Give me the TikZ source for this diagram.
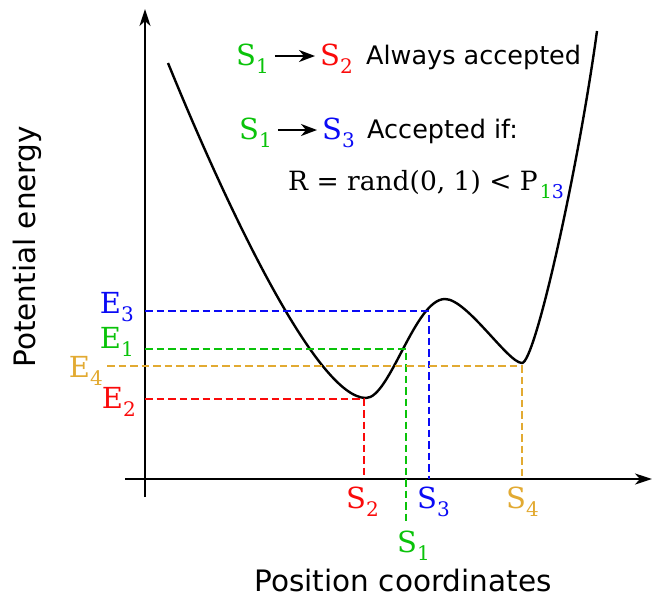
\documentclass[tikz,border=0pt]{standalone}
\usepackage{fontspec}
\setmainfont{DejaVu Serif}
\newfontfamily\sansf{DejaVu Sans}
\usetikzlibrary{arrows.meta}
\definecolor{mygreen}{RGB}{10,195,10}
\definecolor{myred}{RGB}{250,10,10}
\definecolor{myblue}{RGB}{10,10,245}
\definecolor{myorange}{RGB}{226,170,50}
\newcommand\lsub[1]{\raisebox{-0.28em}{\fontsize{20}{20}\selectfont #1}}
\begin{document}
\begin{tikzpicture}[x=1pt,y=-1pt,
  lbl/.style={inner sep=0pt,font=\fontsize{29}{32}\selectfont},
  rtxt/.style={inner sep=0pt,font=\fontsize{26.5}{30}\selectfont},
  stxt/.style={inner sep=0pt,font=\sansf\fontsize{25.5}{30}\selectfont},
  axlbl/.style={inner sep=0pt,text depth=0pt,font=\sansf\fontsize{29.5}{34}\selectfont},
  axis/.style={line width=2.4pt,-{Stealth[length=17pt,width=11pt,inset=5pt]}},
  txtarrow/.style={line width=2.2pt,-{Stealth[length=16pt,width=12pt,inset=5pt]}},
  curve/.style={line width=2.4pt},
  dline/.style={line width=2.1pt,dash pattern=on 7.5pt off 4pt}]
\useasboundingbox (0,0) rectangle (652,597);
% axes
\coordinate (yb) at (145,497);
\coordinate (yt) at (145,9);
\coordinate (xl) at (125,479);
\coordinate (xr) at (652,479);
\draw[axis] (yb) -- (yt);
\draw[axis] (xl) -- (xr);
% curve
\coordinate (c0) at (168,63);
\coordinate (cm1) at (366,398);
\coordinate (cmax) at (445,299);
\coordinate (cm2) at (522,363);
\coordinate (c5) at (597,31);
\draw[curve] (c0) .. controls (230,215) and (318,398) .. (cm1)
  .. controls (390,398) and (415,299) .. (cmax)
  .. controls (467,299) and (508,363) .. (cm2)
  .. controls (535,363) and (578,170) .. (c5);
% points
\coordinate (p3) at (429,311);
\coordinate (p1) at (406,349);
\coordinate (p4) at (522,366);
\coordinate (p2) at (364,399);
\coordinate (a3) at (145,311);
\coordinate (a1) at (145,349);
\coordinate (a4) at (107,366);
\coordinate (a2) at (145,399);
\coordinate (f3) at (429,479);
\coordinate (f1) at (406,522);
\coordinate (f4) at (522,479);
\coordinate (f2) at (364,479);
\draw[dline,myblue] (a3) -- (p3) -- (f3);
\draw[dline,mygreen] (a1) -- (p1) -- (f1);
\draw[dline,myorange] (a4) -- (p4) -- (f4);
\draw[dline,myred] (a2) -- (p2) -- (f2);
% energy labels
\node[lbl,text=myblue,anchor=base east] (e3) at (134,313) {E\lsub{3}};
\node[lbl,text=mygreen,anchor=base east] (e1) at (134,348) {E\lsub{1}};
\node[lbl,text=myorange,anchor=base east] (e4) at (103,377) {E\lsub{4}};
\node[lbl,text=myred,anchor=base east] (e2) at (136,408) {E\lsub{2}};
% state labels
\node[lbl,text=myred,anchor=base west] (s2) at (346,508) {S\lsub{2}};
\node[lbl,text=myblue,anchor=base west] (s3) at (417,508) {S\lsub{3}};
\node[lbl,text=myorange,anchor=base west] (s4) at (506,508) {S\lsub{4}};
\node[lbl,text=mygreen,anchor=base west] (s1) at (397,552) {S\lsub{1}};
% axis labels
\node[axlbl,anchor=base] (xlab) at (403,591) {Position coordinates};
\node[axlbl,anchor=base,rotate=90] (ylab) at (35,247) {Potential energy};
% top text
\node[lbl,text=mygreen,anchor=base west] (ta1) at (236,65) {S\lsub{1}};
\node[lbl,text=myred,anchor=base west] (ta2) at (320,65) {S\lsub{2}};
\node[stxt,anchor=base west] (ta3) at (366,64) {Always accepted};
\draw[txtarrow] ([shift={(6,-9)}]ta1.base east) -- ([shift={(-5,-9)}]ta2.base west);
\node[lbl,text=mygreen,anchor=base west] (tb1) at (239,139) {S\lsub{1}};
\node[lbl,text=myblue,anchor=base west] (tb2) at (322,139) {S\lsub{3}};
\node[stxt,anchor=base west] (tb3) at (367,138) {Accepted if:};
\draw[txtarrow] ([shift={(6,-9)}]tb1.base east) -- ([shift={(-5,-9)}]tb2.base west);
\node[rtxt,anchor=base west] (tc) at (288,190) {R = rand(0, 1) {<} P\kern2pt\raisebox{-0.32em}{\fontsize{19}{19}\selectfont\textcolor{mygreen}{1}\textcolor{myblue}{3}}};
\end{tikzpicture}
\end{document}
